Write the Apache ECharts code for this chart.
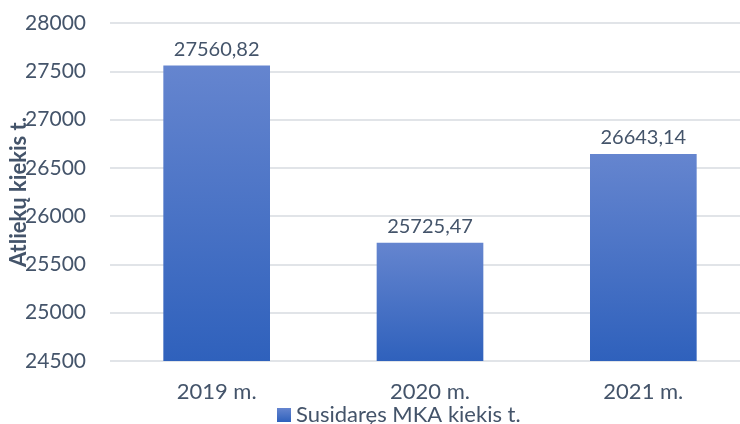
<!DOCTYPE html>
<html>
<head>
<meta charset="utf-8">
<script src="https://cdn.jsdelivr.net/npm/echarts@6/dist/echarts.min.js"></script>
<style>
  html, body { margin: 0; padding: 0; background: #fff; }
  #chart { width: 740px; height: 424px; }
</style>
</head>
<body>
<div id="chart"></div>
<script>
// duomenys
var years = ['2019 m.', '2020 m.', '2021 m.'];
var amounts = [27560.82, 25725.47, 26643.14];
var seriesName = 'Susidaręs MKA kiekis t.';
var yName = 'Atliekų kiekis t.';

var txt = '#44546A';
var font = 'Lato';

var myChart = echarts.init(document.getElementById('chart'));
var option = {
    animation: false,
    textStyle: { fontFamily: font },
    grid: { left: 110, width: 640, top: 23, bottom: 63, outerBoundsMode: 'none', containLabel: false },
    legend: {
        data: [seriesName],
        top: 404,
        left: 277,
        icon: 'rect',
        itemWidth: 14,
        itemHeight: 14,
        itemGap: 6,
        padding: 0,
        textStyle: { color: txt, fontSize: 22, fontFamily: font }
    },
    xAxis: {
        type: 'category',
        data: years,
        axisLine: { show: false },
        axisTick: { show: false },
        axisLabel: { color: txt, fontSize: 22, margin: 20 }
    },
    yAxis: {
        type: 'value',
        min: 24500,
        max: 28000,
        interval: 500,
        name: yName,
        nameLocation: 'middle',
        nameGap: 80,
        nameRotate: 90,
        nameMoveOverlap: false,
        nameTextStyle: { color: txt, fontSize: 22, fontWeight: 'bold' },
        axisLabel: { color: txt, fontSize: 21, margin: 24, formatter: function (v) { return String(v); } },
        splitLine: { lineStyle: { color: '#E1E4E8', width: 2 } }
    },
    series: [{
        name: seriesName,
        type: 'bar',
        data: amounts,
        barWidth: '50%',
        itemStyle: {
            color: new echarts.graphic.LinearGradient(0, 0, 0, 1, [
                { offset: 0, color: '#6585CF' },
                { offset: 1, color: '#2F61BC' }
            ])
        },
        label: {
            show: true,
            position: 'top',
            distance: 6,
            color: txt,
            fontSize: 20,
            formatter: function (p) { return p.value.toFixed(2).replace('.', ','); }
        }
    }]
};
option && myChart.setOption(option);
</script>
</body>
</html>
